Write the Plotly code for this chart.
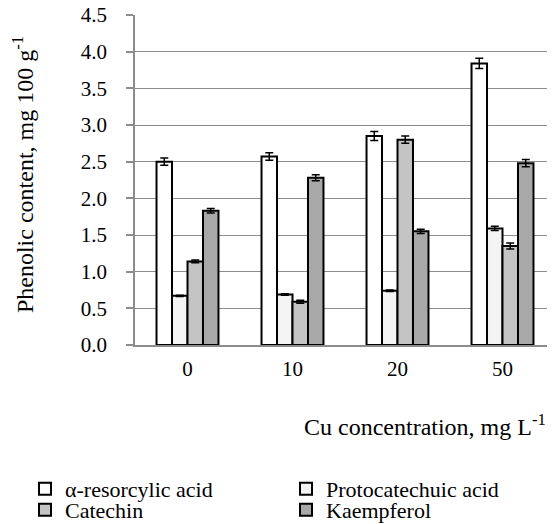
import plotly.graph_objects as go

categories = ["0", "10", "20", "50"]
series_names = ["α-resorcylic acid", "Protocatechuic acid", "Catechin", "Kaempferol"]
resorcylic = [2.50, 2.57, 2.85, 3.84]
protocatechuic = [0.67, 0.69, 0.74, 1.59]
catechin = [1.14, 0.59, 2.80, 1.35]
kaempferol = [1.83, 2.28, 1.55, 2.48]
err_resorcylic = [0.05, 0.05, 0.06, 0.07]
err_protocatechuic = [0.01, 0.01, 0.01, 0.03]
err_catechin = [0.02, 0.02, 0.05, 0.04]
err_kaempferol = [0.03, 0.04, 0.03, 0.05]
y_ticks = [0.0, 0.5, 1.0, 1.5, 2.0, 2.5, 3.0, 3.5, 4.0, 4.5]

values = [resorcylic, protocatechuic, catechin, kaempferol]
errors = [err_resorcylic, err_protocatechuic, err_catechin, err_kaempferol]
colors = ["#ffffff", "#f4f4f4", "#c4c4c4", "#a8a8a8"]
legend_ids = ["legend", "legend2", "legend3", "legend4"]

FONT = "Liberation Serif, Times New Roman, serif"
# page body has an 8px margin: compensate so the chart lands where the reference has it
OFF = 8
W, H = 555 - OFF, 524 - OFF

fig = go.Figure()
for name, v, e, c, lg in zip(series_names, values, errors, colors, legend_ids):
    fig.add_trace(go.Bar(
        x=categories, y=v, name=name, legend=lg,
        marker=dict(color=c, line=dict(color="#000000", width=2)),
        error_y=dict(type="data", array=e, visible=True, color="#000000",
                     thickness=1.5, width=4),
    ))

leg_common = dict(orientation="h", xref="container", yref="container",
                  xanchor="left", yanchor="middle",
                  font=dict(family=FONT, size=22), itemwidth=30,
                  bgcolor="rgba(0,0,0,0)", borderwidth=0)

def lx(px):
    return (px - OFF) / W

def ly(py):
    return 1 - (py - OFF) / H

fig.update_layout(
    width=W, height=H,
    margin=dict(l=135 - OFF, r=0, t=15 - OFF, b=H - (15 - OFF) - 330, autoexpand=False),
    paper_bgcolor="white", plot_bgcolor="white",
    barmode="group", bargap=0.41, bargroupgap=0,
    font=dict(family=FONT, size=21, color="#000000"),
    showlegend=True,
    legend=dict(x=lx(25), y=ly(489), **leg_common),
    legend2=dict(x=lx(286), y=ly(489), **leg_common),
    legend3=dict(x=lx(25), y=ly(510), **leg_common),
    legend4=dict(x=lx(286), y=ly(510), **leg_common),
    xaxis=dict(
        type="category", showgrid=False, showline=True, linecolor="#8c8c8c",
        linewidth=1.5, ticks="", tickfont=dict(family=FONT, size=21),
        ticklabelstandoff=4,
    ),
    yaxis=dict(
        range=[0, 4.5], tickvals=y_ticks,
        ticktext=[f"{t:.1f}" for t in y_ticks],
        showgrid=True, gridcolor="#8c8c8c", gridwidth=1.2,
        showline=True, linecolor="#8c8c8c", linewidth=1.5,
        ticks="outside", ticklen=7, tickcolor="#8c8c8c", tickwidth=1.5,
        tickfont=dict(family=FONT, size=21), zeroline=False,
        ticklabelstandoff=15, ticklabeloverflow="allow",
    ),
    annotations=[
        dict(text="Cu concentration, mg L<sup>-1</sup>", xref="paper", yref="paper",
             x=0.69, y=-0.242, xanchor="center", yanchor="middle", showarrow=False,
             font=dict(family=FONT, size=24)),
        dict(text="Phenolic content, mg 100 g<sup>-1</sup>", xref="paper", yref="paper",
             x=(23 - 135) / 420, y=0.515, xanchor="center", yanchor="middle",
             showarrow=False, textangle=-90, font=dict(family=FONT, size=24)),
    ],
)

fig.write_html("out.html")
